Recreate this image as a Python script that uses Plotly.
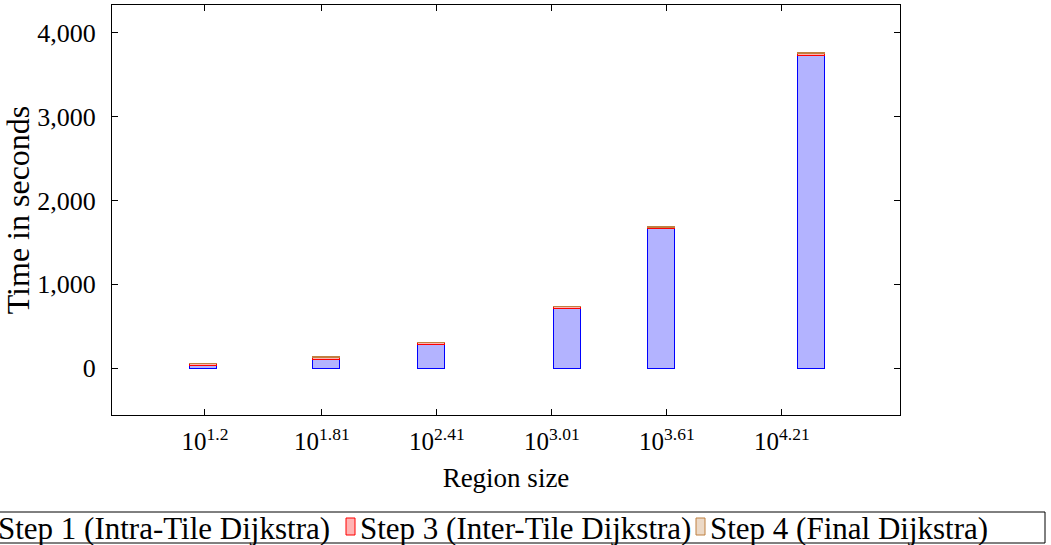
import plotly.graph_objects as go

# ---- data ----
x_pos = [1.19, 1.83, 2.38, 3.09, 3.58, 4.36]
step1 = [25, 107, 285, 710, 1660, 3737]
step3 = [26, 22, 20, 20, 20, 20]
step4 = [4, 3, 3, 3, 4, 8]
tick_vals = [1.2, 1.81, 2.41, 3.01, 3.61, 4.21]
tick_text = ["10<sup>1.2</sup>", "10<sup>1.81</sup>", "10<sup>2.41</sup>",
             "10<sup>3.01</sup>", "10<sup>3.61</sup>", "10<sup>4.21</sup>"]
series_names = ["Step 1 (Intra-Tile Dijkstra)", "Step 3 (Inter-Tile Dijkstra)",
                "Step 4 (Final Dijkstra)"]

FONT = "Liberation Serif"
fills = ["rgb(179,179,255)", "rgb(255,179,179)", "rgb(236,217,198)"]
lines = ["rgb(0,0,255)", "rgb(255,0,0)", "rgb(191,128,64)"]

fig = go.Figure()
for name, vals, fc, lc in zip(series_names, [step1, step3, step4], fills, lines):
    fig.add_trace(go.Bar(x=x_pos, y=vals, name=name, width=0.14,
                         marker=dict(color=fc, line=dict(color=lc, width=1)),
                         showlegend=False))

fig.update_layout(
    width=1051, height=545, barmode="stack",
    margin=dict(l=112, r=151, t=5, b=130),
    plot_bgcolor="white", paper_bgcolor="white",
    font=dict(family=FONT, size=25, color="black"),
    xaxis=dict(range=[0.715, 4.826], tickvals=tick_vals, ticktext=tick_text,
               ticks="inside", ticklen=6, tickcolor="black", showline=True,
               linecolor="black", linewidth=1, mirror="allticks", showgrid=False,
               zeroline=False, ticklabelstandoff=4,
               title=dict(text="Region size", standoff=14, font=dict(size=27)),
               tickfont=dict(size=25)),
    yaxis=dict(range=[-561, 4334], tickvals=[0, 1000, 2000, 3000, 4000],
               tickformat=",d", ticks="inside", ticklen=6, tickcolor="black",
               showline=True, linecolor="black", linewidth=1, mirror="allticks",
               showgrid=False, zeroline=False, ticklabelstandoff=10,
               title=dict(text="Time in seconds", standoff=0, font=dict(size=32)),
               tickfont=dict(size=26)),
)

# ---- legend box (manual, pgfplots-style) ----
fig.add_shape(type="rect", xref="paper", yref="paper",
              x0=(-10 - 112) / 788, x1=(1045 - 112) / 788,
              y0=(415 - 543) / 410, y1=(415 - 512) / 410,
              line=dict(color="black", width=1), fillcolor="white")
text_x = [-4, 358, 708]
sw_x = [None, 346, 696]
for i, name in enumerate(series_names):
    if sw_x[i] is not None:
        fig.add_shape(type="rect", xref="paper", yref="paper",
                      x0=(sw_x[i] - 112) / 788, x1=(sw_x[i] + 9 - 112) / 788,
                      y0=(415 - 535) / 410, y1=(415 - 518) / 410,
                      line=dict(color=lines[i], width=1), fillcolor=fills[i])
    fig.add_annotation(text=name, xref="paper", yref="paper",
                       x=(text_x[i] - 112) / 788, y=(415 - 528) / 410,
                       xanchor="left", yanchor="middle", showarrow=False,
                       font=dict(family=FONT, size=31, color="black"))

fig.write_html("out.html")
